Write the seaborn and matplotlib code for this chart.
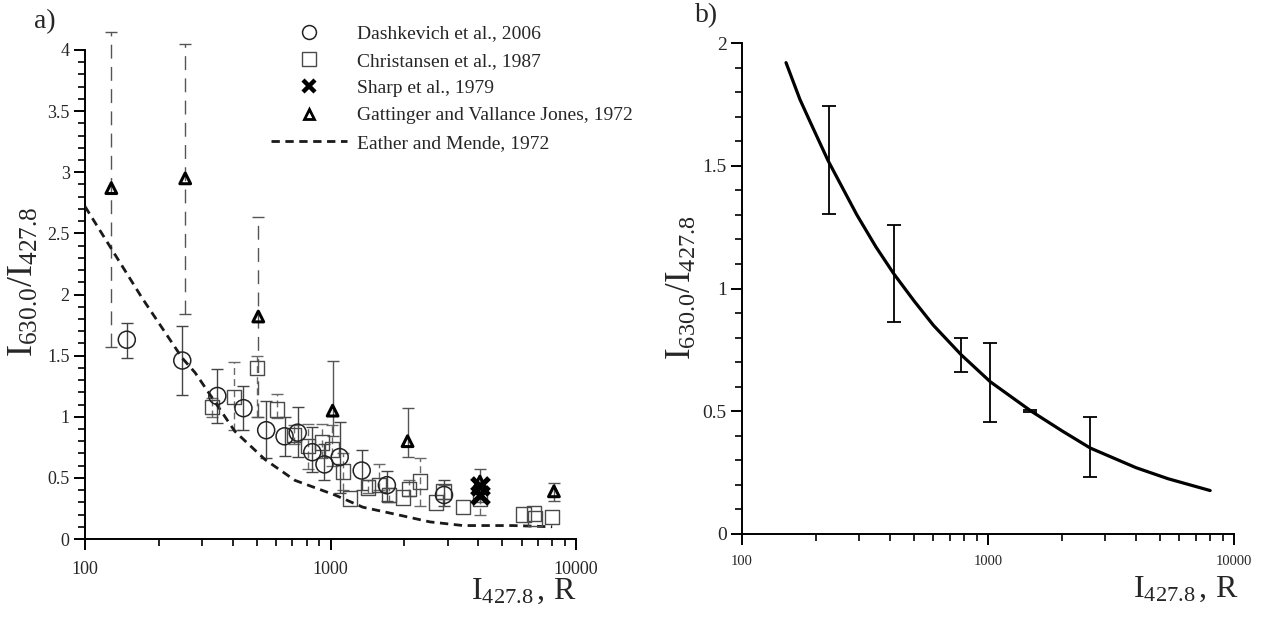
import numpy as np
import pandas as pd
import matplotlib
matplotlib.use("Agg")
import matplotlib.pyplot as plt
from matplotlib.lines import Line2D
from matplotlib.ticker import MultipleLocator, FixedLocator, FuncFormatter, LogLocator, NullFormatter
import seaborn as sns

# ---- panel a) data ----
dash_x = [148, 249, 346, 442, 547, 650, 735, 843, 945, 1090, 1340, 1697, 2900]
dash_y = [1.63, 1.46, 1.17, 1.07, 0.89, 0.84, 0.87, 0.71, 0.61, 0.67, 0.56, 0.44, 0.36]
dash_hi = [1.77, 1.74, 1.39, 1.25, 1.13, 1.00, 1.08, 0.92, 0.78, 0.96, 0.73, 0.56, 0.48]
dash_lo = [1.48, 1.18, 0.95, 0.89, 0.66, 0.68, 0.67, 0.55, 0.48, 0.38, 0.40, 0.31, 0.27]

chr_x = [329, 404, 502, 606, 710, 809, 922, 1014, 1125, 1200, 1422, 1578, 1730, 1972,
         2089, 2315, 2692, 2890, 3467, 4064, 6100, 6750, 6800, 8000]
chr_y = [1.08, 1.16, 1.40, 1.06, 0.85, 0.76, 0.79, 0.73, 0.55, 0.33, 0.42, 0.44, 0.36, 0.34,
         0.41, 0.47, 0.30, 0.39, 0.26, 0.33, 0.20, 0.21, 0.17, 0.18]
chr_hi = [1.15, 1.45, 1.50, 1.19, 0.93, 0.94, 0.94, 0.93, 0.70, np.nan, 0.48, 0.61, 0.42, np.nan,
          0.48, 0.66, np.nan, 0.44, np.nan, 0.40, np.nan, np.nan, np.nan, np.nan]
chr_lo = [1.00, 0.89, 1.00, 0.99, 0.78, 0.57, 0.66, 0.60, 0.40, np.nan, 0.38, 0.40, 0.30, np.nan,
          0.35, 0.27, np.nan, 0.33, np.nan, 0.20, np.nan, np.nan, np.nan, np.nan]

sharp_x = [4050, 4050]
sharp_y = [0.43, 0.36]

gat_x = [128, 256, 508, 1020, 2060, 4060, 8130]
gat_y = [2.87, 2.95, 1.82, 1.05, 0.80, 0.47, 0.39]
gat_hi = [4.15, 4.05, 2.63, 1.46, 1.07, 0.57, 0.46]
gat_lo = [1.57, 1.84, 1.00, 0.84, 0.67, 0.30, 0.31]

em_x = [100, 171, 249, 281, 408, 541, 716, 1042, 1355, 1862, 2541, 3467, 5530, 8000]
em_y = [2.72, 1.97, 1.48, 1.36, 0.88, 0.65, 0.48, 0.36, 0.26, 0.20, 0.14, 0.11, 0.11, 0.10]

# ---- panel b) data ----
fit_x = [151, 172, 189, 224, 293, 350, 414, 500, 600, 778, 1022, 1500, 2000, 2606, 4000, 5400, 8000]
fit_y = [1.92, 1.77, 1.68, 1.52, 1.30, 1.17, 1.06, 0.95, 0.85, 0.73, 0.62, 0.50, 0.42, 0.35, 0.27, 0.225, 0.177]
bar_x = [225, 414, 778, 1022, 1480, 2606]
bar_hi = [1.744, 1.258, 0.798, 0.777, 0.505, 0.476]
bar_lo = [1.305, 0.863, 0.658, 0.456, 0.495, 0.234]

sns.set_theme(style="ticks")
plt.rcParams["font.family"] = ["Liberation Serif", "DejaVu Serif"]
plt.rcParams["mathtext.fontset"] = "custom"
plt.rcParams["mathtext.rm"] = "Liberation Serif"
plt.rcParams["mathtext.it"] = "Liberation Serif:italic"

W, H = 1273, 619
fig = plt.figure(figsize=(W / 100, H / 100), dpi=100)
axa = fig.add_axes([85 / W, (H - 539) / H, 491 / W, 489 / H])
axb = fig.add_axes([742 / W, (H - 534) / H, 492 / W, 491 / H])

dash = pd.DataFrame({"x": dash_x, "y": dash_y, "hi": dash_hi, "lo": dash_lo})
chri = pd.DataFrame({"x": chr_x, "y": chr_y, "hi": chr_hi, "lo": chr_lo})
gat = pd.DataFrame({"x": gat_x, "y": gat_y, "hi": gat_hi, "lo": gat_lo})
em = pd.DataFrame({"x": em_x, "y": em_y})

# error bars
def bars(ax, df, color, lw, ls, cap):
    d = df.dropna()
    eb = ax.errorbar(d["x"], d["y"], yerr=[d["y"] - d["lo"], d["hi"] - d["y"]], fmt="none",
                     ecolor=color, elinewidth=lw, capsize=cap, capthick=lw, zorder=2)
    for c in eb[2]:
        c.set_linestyle(ls)
        c.set_clip_on(False)
    for c in eb[1]:
        c.set_clip_on(False)

bars(axa, chri, "#6a6a6a", 1.0, (0, (5, 3)), 4)
bars(axa, gat.iloc[:3], "#555555", 1.0, (0, (10, 6)), 4)
bars(axa, gat.iloc[3:], "#555555", 1.0, "-", 4)
bars(axa, dash, "#444444", 1.0, "-", 4)

sns.lineplot(data=em, x="x", y="y", ax=axa, color="#1a1a1a", lw=2.0,
             linestyle=(0, (3, 2)), zorder=3)
sns.scatterplot(data=chri, x="x", y="y", ax=axa, marker="s", s=110,
                facecolors="none", edgecolors="#4a4a4a", linewidth=1.0, zorder=4)
sns.scatterplot(data=dash, x="x", y="y", ax=axa, marker="o", s=150,
                facecolors="none", edgecolors="#222222", linewidth=1.1, zorder=5)
sns.scatterplot(x=gat_x, y=gat_y, ax=axa, marker="^", s=60,
                facecolors="none", edgecolors="black", linewidth=2.2, zorder=6)
sns.scatterplot(x=sharp_x, y=sharp_y, ax=axa, marker="x", s=150,
                color="black", linewidth=3.8, zorder=7)

# panel b
sns.lineplot(x=fit_x, y=fit_y, ax=axb, color="black", lw=2.3)
mid = [(h + l) / 2 for h, l in zip(bar_hi, bar_lo)]
axb.errorbar(bar_x, mid, yerr=[np.subtract(mid, bar_lo), np.subtract(bar_hi, mid)], fmt="none",
             ecolor="black", elinewidth=1.3, capsize=5, capthick=1.3)

for ax in (axa, axb):
    ax.set_xscale("log")
    ax.set_xlim(100, 10000)
    ax.xaxis.set_major_locator(FixedLocator([100, 1000, 10000]))
    ax.xaxis.set_major_formatter(FuncFormatter(lambda v, p: f"{v:.0f}"))
    ax.xaxis.set_minor_locator(LogLocator(base=10, subs=np.arange(2, 10)))
    ax.xaxis.set_minor_formatter(NullFormatter())
    ax.yaxis.set_major_locator(MultipleLocator(0.5))
    ax.yaxis.set_minor_locator(MultipleLocator(0.1))
    ax.yaxis.set_major_formatter(FuncFormatter(lambda v, p: f"{v:g}"))
    ax.set_xlabel("")
    ax.set_ylabel("")
    sns.despine(ax=ax)
    for s in ("left", "bottom"):
        ax.spines[s].set_linewidth(1.4)
        ax.spines[s].set_color("black")
    ax.tick_params(which="major", direction="out", length=8, width=1.4, color="black")
    ax.tick_params(which="minor", direction="out", length=5, width=1.2, color="black")
    ax.tick_params(axis="y", labelsize=13, pad=3)

axa.set_ylim(0, 4)
axb.set_ylim(0, 2)
axa.tick_params(axis="x", labelsize=13, pad=8)
axb.tick_params(axis="x", labelsize=10.5, pad=7)
axb.tick_params(axis="y", labelsize=14)

# legend
handles = [
    Line2D([], [], ls="none", marker="o", ms=10, mfc="none", mec="#222222", mew=1.1),
    Line2D([], [], ls="none", marker="s", ms=9.5, mfc="none", mec="#4a4a4a", mew=1.0),
    Line2D([], [], ls="none", marker="x", ms=8, mec="black", mew=3.2),
    Line2D([], [], ls="none", marker="^", ms=7, mfc="none", mec="black", mew=2.0),
    Line2D([], [], color="#1a1a1a", lw=2.0, ls=(0, (3, 2))),
]
labels = ["Dashkevich et al., 2006", "Christansen et al., 1987", "Sharp et al., 1979",
          "Gattinger and Vallance Jones, 1972", "Eather and Mende, 1972"]
axa.legend(handles, labels, loc="upper left", bbox_to_anchor=(261 / W, 1 - 15 / H),
           bbox_transform=fig.transFigure, frameon=False, fontsize=14, borderpad=0,
           handlelength=3.9, handletextpad=0.55, labelspacing=0.5)

lab_y = r"$\mathregular{I_{630.0}/I_{427.8}}$"
lab_x = r"$\mathregular{I_{427.8}\,,\, R}$"
fig.text(24 / W, 1 - 282 / H, lab_y, rotation=90, ha="center", va="center", fontsize=26)
fig.text(682 / W, 1 - 288 / H, lab_y, rotation=90, ha="center", va="center", fontsize=25)
fig.text(524 / W, 1 - 591 / H, lab_x, ha="center", va="center", fontsize=23)
fig.text(1186 / W, 1 - 589 / H, lab_x, ha="center", va="center", fontsize=23)
fig.text(45 / W, 1 - 22 / H, "a)", ha="center", va="center", fontsize=20)
fig.text(707 / W, 1 - 16 / H, "b)", ha="center", va="center", fontsize=20)

fig.savefig("out.png", dpi=100)
